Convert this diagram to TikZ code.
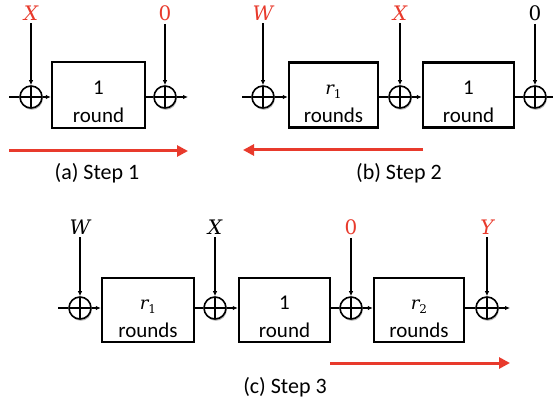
\documentclass[tikz,border=0pt]{standalone}
\usepackage{fontspec}
\setmainfont{Carlito}
\newfontfamily\lmr{DejaVu Serif}
\usetikzlibrary{arrows.meta,shadows}
\definecolor{myred}{RGB}{232,58,44}
\newcommand{\bstrut}{\rule{0pt}{28pt}}
\newcommand{\vr}[1]{{\lmr\fontsize{18}{18}\selectfont\itshape r}\raisebox{-3.5pt}{\lmr\fontsize{12}{12}\selectfont #1}}
\newcommand{\lv}[1]{{\lmr\itshape #1}}
\begin{document}
\begin{tikzpicture}[x=1pt,y=-1pt,
  xorn/.style={circle,draw,line width=1.6pt,minimum size=22pt,inner sep=0pt,fill=white,
    drop shadow={shadow xshift=0.8pt,shadow yshift=-1.8pt,opacity=0.3,fill=black},
    path picture={\draw[line width=1.4pt] (path picture bounding box.north)--(path picture bounding box.south)
      (path picture bounding box.west)--(path picture bounding box.east);}},
  rbox/.style={draw,line width=2.4pt,minimum height=66pt,align=center,inner sep=0pt,
    font=\fontsize{21}{28}\selectfont},
  lbl/.style={inner sep=3pt,font=\fontsize{20}{22}\selectfont},
  captext/.style={font=\fontsize{22}{24}\selectfont},
  wire/.style={line width=1.5pt},
  arr/.style={line width=1.5pt,-{Latex[length=5pt,width=4.5pt]}},
  redarr/.style={draw=myred,line width=3pt,-{Triangle[length=11pt,width=11pt]}}
]
\useasboundingbox (0,0) rectangle (553,403);

% ---------- (a) ----------
\coordinate (a0) at (9,97);
\node[xorn] (ax1) at (31,97) {};
\node[rbox,minimum width=93pt] (ab) at (98.5,95) {\bstrut 1\\round};
\node[xorn] (ax2) at (165,97) {};
\coordinate (aout) at (188,97);
\node[lbl,text=myred] (aX) at (31,13) {\lv{X}};
\node[lbl,text=myred] (aZ) at (165,13) {\lmr 0};
\draw[wire] (a0) -- (ax1.west);
\draw[arr] (ax1.east) -- (ax1.east -| ab.west);
\draw[wire] (ax1.east -| ab.east) -- (ax2.west);
\draw[arr] (ax2.east) -- (aout);
\draw[arr] (aX.south) -- (ax1.north);
\draw[arr] (aZ.south) -- (ax2.north);
\coordinate (ar1) at (9,151);
\coordinate (ar2) at (188,151);
\draw[redarr] (ar1) -- (ar2);
\node[captext] (acap) at (97,173) {(a) Step 1};

% ---------- (b) ----------
\coordinate (b0) at (242,97);
\node[xorn] (bx1) at (263,97) {};
\node[rbox,minimum width=89pt,minimum height=65pt] (bb1) at (333.5,95) {\bstrut\vr{1}\\rounds};
\node[xorn] (bx2) at (400,97) {};
\node[rbox,minimum width=91pt,minimum height=65pt] (bb2) at (468.5,95) {\bstrut 1\\round};
\node[xorn] (bx3) at (535,97) {};
\coordinate (bout) at (553,97);
\node[lbl,text=myred] (bW) at (263,13) {\lv{W}};
\node[lbl,text=myred] (bX) at (400,13) {\lv{X}};
\node[lbl] (bZ) at (535,13) {\lmr 0};
\draw[wire] (b0) -- (bx1.west);
\draw[arr] (bx1.east) -- (bx1.east -| bb1.west);
\draw[wire] (bx1.east -| bb1.east) -- (bx2.west);
\draw[arr] (bx2.east) -- (bx2.east -| bb2.west);
\draw[wire] (bx2.east -| bb2.east) -- (bx3.west);
\draw[wire] (bx3.east) -- (bout);
\draw[arr] (bW.south) -- (bx1.north);
\draw[arr] (bX.south) -- (bx2.north);
\draw[arr] (bZ.south) -- (bx3.north);
\coordinate (br1) at (423,150);
\coordinate (br2) at (243,150);
\draw[redarr] (br1) -- (br2);
\node[captext] (bcap) at (399,173) {(b) Step 2};

% ---------- (c) ----------
\coordinate (c0) at (58,308);
\node[xorn] (cx1) at (80,308) {};
\node[rbox,minimum width=92pt,minimum height=64pt] (cb1) at (148,310) {\bstrut\vr{1}\\rounds};
\node[xorn] (cx2) at (215,308) {};
\node[rbox,minimum width=91pt,minimum height=64pt] (cb2) at (284.5,310) {\bstrut 1\\round};
\node[xorn] (cx3) at (351,308) {};
\node[rbox,minimum width=90pt,minimum height=64pt] (cb3) at (419,310) {\bstrut\vr{2}\\rounds};
\node[xorn] (cx4) at (487,308) {};
\coordinate (cout) at (510,308);
\node[lbl] (cW) at (80,227) {\lv{W}};
\node[lbl] (cX) at (215,227) {\lv{X}};
\node[lbl,text=myred] (cZ) at (351,227) {\lmr 0};
\node[lbl,text=myred] (cY) at (487,227) {\lv{Y}};
\draw[wire] (c0) -- (cx1.west);
\draw[arr] (cx1.east) -- (cx1.east -| cb1.west);
\draw[wire] (cx1.east -| cb1.east) -- (cx2.west);
\draw[arr] (cx2.east) -- (cx2.east -| cb2.west);
\draw[wire] (cx2.east -| cb2.east) -- (cx3.west);
\draw[arr] (cx3.east) -- (cx3.east -| cb3.west);
\draw[wire] (cx3.east -| cb3.east) -- (cx4.west);
\draw[arr] (cx4.east) -- (cout);
\draw[arr] (cW.south) -- (cx1.north);
\draw[arr] (cX.south) -- (cx2.north);
\draw[arr] (cZ.south) -- (cx3.north);
\draw[arr] (cY.south) -- (cx4.north);
\coordinate (cr1) at (330,363);
\coordinate (cr2) at (510,363);
\draw[redarr] (cr1) -- (cr2);
\node[captext] (ccap) at (285,387) {(c) Step 3};
\end{tikzpicture}
\end{document}
